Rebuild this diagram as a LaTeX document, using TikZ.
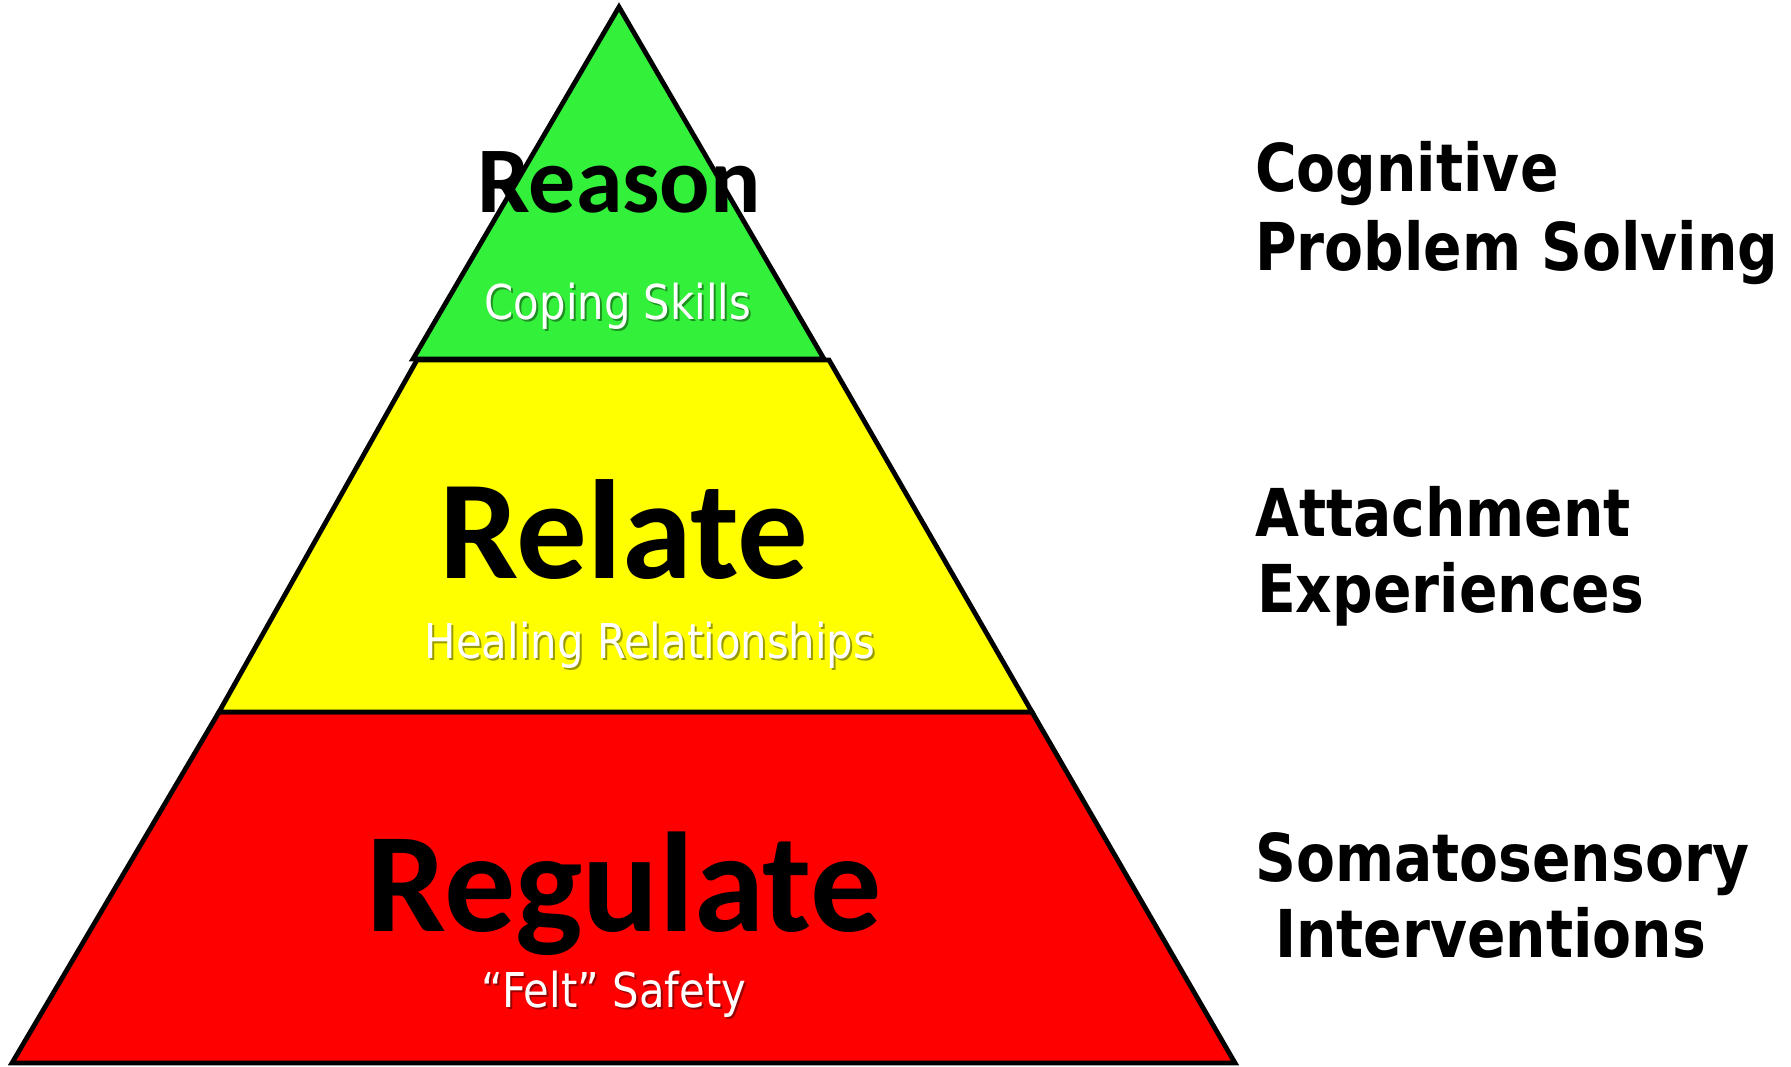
\documentclass[tikz,border=0pt]{standalone}
\usepackage{fontspec}
\newfontfamily\bigfont{Carlito}
\newfontfamily\subfont{DejaVu Sans}[FakeStretch=0.87]
\newfontfamily\sidefont{DejaVu Sans}[FakeStretch=0.86]
\definecolor{tiergreen}{RGB}{51,240,58}
\definecolor{tieryellow}{RGB}{255,255,0}
\definecolor{tierred}{RGB}{255,0,0}
\tikzset{
  tier/.style={draw=black, line width=4.8pt, line join=miter},
  bigword/.style={anchor=base, inner sep=0pt, text=black},
  subword/.style={anchor=base, inner sep=0pt, text=white, font=\subfont\fontsize{48}{48}\selectfont},
  subshadow/.style={anchor=base, inner sep=0pt, text=black, opacity=0.4, font=\subfont\fontsize{48}{48}\selectfont},
  sideword/.style={anchor=base west, inner sep=0pt, text=black, font=\sidefont\bfseries\fontsize{66}{66}\selectfont}
}
\begin{document}
\begin{tikzpicture}[x=1pt,y=-1pt]
\useasboundingbox[fill=white] (0,0) rectangle (1791,1066);
% tiers
\fill[tierred] (219,712) -- (1032,712) -- (1235,1063) -- (12,1063) -- cycle;
\draw[tier] (219,712) -- (1032,712) -- (1235,1063) -- (12,1063) -- cycle;
\fill[tieryellow] (417,360) -- (829,360) -- (1032,712) -- (219,712) -- cycle;
\draw[tier] (417,360) -- (829,360) -- (1032,712) -- (219,712) -- cycle;
\fill[tiergreen] (619,7) -- (824,359) -- (413,359) -- cycle;
\draw[tier] (619,7) -- (824,359) -- (413,359) -- cycle;
% big words
\node[bigword, font=\bigfont\bfseries\fontsize{94}{94}\selectfont] (reason) at (619,212) {Reason};
\node[bigword, font=\bigfont\bfseries\fontsize{141}{141}\selectfont] (relate) at (624,578) {Relate};
\node[bigword, font=\bigfont\bfseries\fontsize{142}{142}\selectfont] (regulate) at (624,931) {Regulate};
% subtitles with shadows
\node[subshadow] (copingsh) at (620,321) {Coping Skills};
\node[subword] (coping) at (618,319) {Coping Skills};
\node[subshadow] (healingsh) at (652,660) {Healing Relationships};
\node[subword] (healing) at (650,658) {Healing Relationships};
\node[subshadow] (feltsh) at (616,1009) {“Felt” Safety};
\node[subword] (felt) at (614,1007) {“Felt” Safety};
% side labels
\node[sideword] (cog1) at (1255,191) {Cognitive};
\node[sideword] (cog2) at (1255,270) {Problem Solving};
\node[sideword] (att1) at (1255,536) {Attachment};
\node[sideword] (att2) at (1257,612) {Experiences};
\node[sideword] (som1) at (1255,881) {Somatosensory};
\node[sideword] (som2) at (1275,957) {Interventions};
\end{tikzpicture}
\end{document}
